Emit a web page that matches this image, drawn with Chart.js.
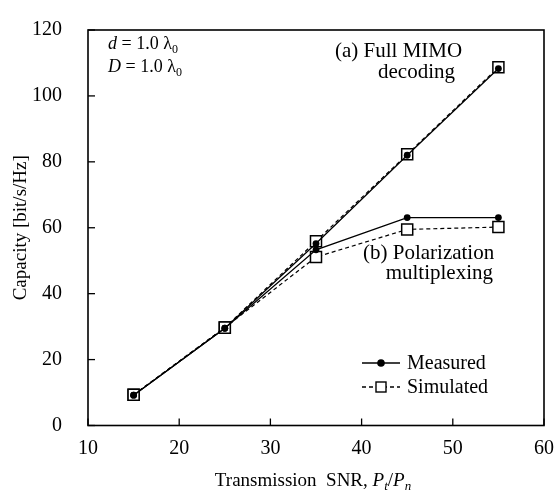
<!DOCTYPE html>
<html><head><meta charset="utf-8">
<script src="https://cdn.jsdelivr.net/npm/chart.js@4/dist/chart.umd.min.js"></script>
<style>html,body{margin:0;padding:0;background:#fff}#wrap{width:557px;height:492px;position:relative}</style>
</head><body><div id="wrap"><canvas id="c" width="557" height="492"></canvas></div>
<script>
// ---- data ----
const snr = [15, 25, 35, 45, 55];
const fullMeasured   = [9.2, 29.5, 55.2, 82.0, 108.3];
const fullSimulated  = [9.3, 29.7, 55.9, 82.3, 108.7];
const polMeasured    = [9.2, 29.5, 53.3, 63.1, 63.1];
const polSimulated   = [9.3, 29.7, 51.1, 59.5, 60.2];
const xTickValues = [10, 20, 30, 40, 50, 60];
const yTickValues = [0, 20, 40, 60, 80, 100, 120];
const legendLabels = ['Measured', 'Simulated'];

const SERIF = "'Liberation Serif','Times New Roman',serif";
const pts = ys => ys.map((y, i) => ({x: snr[i], y}));

const measuredStyle = {
  borderColor: '#000', borderWidth: 1.3, pointStyle: 'circle', pointRadius: 3.4,
  pointBackgroundColor: '#000', pointBorderColor: '#000', pointBorderWidth: 0, order: 1, tension: 0
};
const simulatedStyle = {
  borderColor: '#000', borderWidth: 1.2, borderDash: [4, 3], pointStyle: 'rect', pointRadius: 7.8,
  pointBackgroundColor: '#fff', pointBorderColor: '#000', pointBorderWidth: 1.5, order: 2, tension: 0
};

function drawRuns(ctx, runs, x, y, align) {
  let total = 0;
  runs.forEach(r => { ctx.font = r[1]; total += ctx.measureText(r[0]).width; });
  let cx = align === 'center' ? x - total / 2 : (align === 'right' ? x - total : x);
  ctx.textAlign = 'left';
  ctx.textBaseline = 'alphabetic';
  runs.forEach(r => {
    ctx.font = r[1];
    ctx.fillText(r[0], cx, y + (r[2] || 0));
    cx += ctx.measureText(r[0]).width;
  });
}

const decor = {
  id: 'decor',
  beforeDatasetsDraw(chart) {
    const {ctx, chartArea: a, scales} = chart;
    ctx.save();
    ctx.strokeStyle = '#000';
    ctx.lineWidth = 1.6;
    ctx.strokeRect(a.left, a.top, a.right - a.left, a.bottom - a.top);
    ctx.lineWidth = 1.3;
    xTickValues.forEach(v => {
      const px = scales.x.getPixelForValue(v);
      ctx.beginPath(); ctx.moveTo(px, a.bottom); ctx.lineTo(px, a.bottom - 7); ctx.stroke();
    });
    yTickValues.forEach(v => {
      const py = scales.y.getPixelForValue(v);
      ctx.beginPath(); ctx.moveTo(a.left, py); ctx.lineTo(a.left + 7, py); ctx.stroke();
    });
    ctx.restore();
  },
  afterDraw(chart) {
    const {ctx, chartArea: a} = chart;
    ctx.save();
    ctx.fillStyle = '#000';
    const f = '19px ' + SERIF, fi = 'italic 19px ' + SERIF, fs = 'italic 13px ' + SERIF;
    drawRuns(ctx, [['Transmission  SNR, ', f], ['P', fi], ['t', fs, 4], ['/', f], ['P', fi], ['n', fs, 4]], 313, 486, 'center');
    ctx.save();
    ctx.translate(26, (a.top + a.bottom) / 2);
    ctx.rotate(-Math.PI / 2);
    ctx.font = f; ctx.textAlign = 'center'; ctx.textBaseline = 'alphabetic';
    ctx.fillText('Capacity [bit/s/Hz]', 0, 0);
    ctx.restore();
    const g = '18px ' + SERIF, gi = 'italic 18px ' + SERIF, gs = '12px ' + SERIF;
    drawRuns(ctx, [['d', gi], [' = 1.0 \u03bb', g], ['0', gs, 4]], 108, 49, 'left');
    drawRuns(ctx, [['D', gi], [' = 1.0 \u03bb', g], ['0', gs, 4]], 108, 72, 'left');
    const h = '21px ' + SERIF;
    drawRuns(ctx, [['(a) Full MIMO', h]], 335, 57, 'left');
    drawRuns(ctx, [['decoding', h]], 378, 78, 'left');
    drawRuns(ctx, [['(b) Polarization', h]], 363, 259, 'left');
    drawRuns(ctx, [['multiplexing', h]], 493, 279, 'right');
    const lx0 = 362, lx1 = 400, mx = 381;
    ctx.strokeStyle = '#000';
    ctx.lineWidth = 1.3;
    ctx.beginPath(); ctx.moveTo(lx0, 363); ctx.lineTo(lx1, 363); ctx.stroke();
    ctx.beginPath(); ctx.arc(mx, 363, 3.8, 0, Math.PI * 2); ctx.fill();
    ctx.setLineDash([4, 3]);
    ctx.beginPath(); ctx.moveTo(lx0, 387); ctx.lineTo(lx1, 387); ctx.stroke();
    ctx.setLineDash([]);
    ctx.fillStyle = '#fff';
    ctx.fillRect(mx - 5, 382, 10, 10);
    ctx.lineWidth = 1.4;
    ctx.strokeRect(mx - 5, 382, 10, 10);
    ctx.fillStyle = '#000';
    drawRuns(ctx, [[legendLabels[0], '20px ' + SERIF]], 407, 369, 'left');
    drawRuns(ctx, [[legendLabels[1], '20px ' + SERIF]], 407, 393, 'left');
    ctx.restore();
  }
};

new Chart(document.getElementById('c'), {
  type: 'line',
  data: {
    datasets: [
      Object.assign({label: 'Full MIMO measured', data: pts(fullMeasured)}, measuredStyle),
      Object.assign({label: 'Polarization measured', data: pts(polMeasured)}, measuredStyle),
      Object.assign({label: 'Full MIMO simulated', data: pts(fullSimulated)}, simulatedStyle),
      Object.assign({label: 'Polarization simulated', data: pts(polSimulated)}, simulatedStyle)
    ]
  },
  options: {
    responsive: false, animation: false, devicePixelRatio: 1,
    layout: {padding: {left: 0, right: 11, top: 13.5, bottom: 0}},
    plugins: {legend: {display: false}, tooltip: {enabled: false}},
    scales: {
      x: {
        type: 'linear', min: 10, max: 60,
        afterBuildTicks: s => { s.ticks = xTickValues.map(v => ({value: v})); },
        afterFit: s => { s.height = 66.5; },
        grid: {display: false}, border: {display: false},
        ticks: {color: '#000', font: {family: SERIF, size: 20}, padding: 3, maxRotation: 0}
      },
      y: {
        type: 'linear', min: 0, max: 120,
        afterBuildTicks: s => { s.ticks = yTickValues.map(v => ({value: v})); },
        afterFit: s => { s.width = 88; },
        grid: {display: false}, border: {display: false},
        ticks: {color: '#000', font: {family: SERIF, size: 20}, padding: 18}
      }
    }
  },
  plugins: [decor]
});
</script>
</body></html>
